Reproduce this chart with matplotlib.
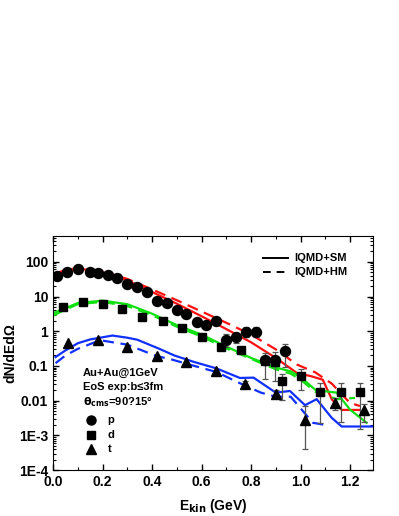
import numpy as np
import matplotlib
matplotlib.use("Agg")
import matplotlib.pyplot as plt
from matplotlib.ticker import MultipleLocator, LogLocator, FixedLocator, NullFormatter

plt.rcParams['font.family'] = ['Liberation Sans', 'DejaVu Sans']
plt.rcParams['font.weight'] = 'bold'

# experimental points
p_E = [0.017, 0.058, 0.10, 0.15, 0.18, 0.22, 0.257, 0.30, 0.34, 0.38, 0.42, 0.46, 0.50,
       0.537, 0.58, 0.617, 0.66, 0.70, 0.74, 0.78, 0.82, 0.857, 0.897, 0.937]
p_v = [39, 51, 62, 51, 48, 41, 34, 22.6, 19, 13.6, 7.5, 6.3, 4.2,
       3.1, 1.8, 1.5, 1.94, 0.55, 0.66, 0.95, 0.95, 0.145, 0.145, 0.27]
p_lo = [39, 51, 62, 51, 48, 41, 34, 22.6, 19, 13.6, 7.5, 6.3, 4.2,
        3.1, 1.45, 1.15, 1.5, 0.35, 0.45, 0.7, 0.7, 0.043, 0.038, 0.094]
p_hi = [39, 51, 62, 51, 48, 41, 34, 22.6, 19, 13.6, 7.5, 6.3, 4.2,
        3.1, 2.2, 1.9, 2.5, 0.85, 0.9, 1.3, 1.3, 0.23, 0.25, 0.44]

d_E = [0.042, 0.122, 0.20, 0.28, 0.36, 0.443, 0.52, 0.60, 0.68, 0.76, 0.857, 0.897,
       0.924, 1.0, 1.08, 1.163, 1.24]
d_v = [5.0, 7.0, 5.9, 4.5, 2.5, 1.94, 1.2, 0.66, 0.35, 0.28, 0.14, 0.13,
       0.036, 0.052, 0.018, 0.018, 0.018]
d_lo = [5.0, 7.0, 5.9, 4.5, 2.5, 1.94, 1.2, 0.66, 0.35, 0.28, 0.14, 0.13,
        0.0106, 0.02, 0.0023, 0.0025, 0.0015]
d_hi = [5.0, 7.0, 5.9, 4.5, 2.5, 1.94, 1.2, 0.66, 0.35, 0.28, 0.14, 0.13,
        0.06, 0.08, 0.032, 0.033, 0.033]

t_E = [0.062, 0.183, 0.30, 0.42, 0.537, 0.66, 0.777, 0.90, 1.018, 1.14, 1.257]
t_v = [0.46, 0.55, 0.35, 0.19, 0.13, 0.07, 0.031, 0.016, 0.0028, 0.0086, 0.0054]
t_lo = [0.46, 0.55, 0.35, 0.19, 0.13, 0.07, 0.026, 0.012, 0.0004, 0.0055, 0.0025]
t_hi = [0.46, 0.55, 0.35, 0.19, 0.13, 0.07, 0.036, 0.02, 0.007, 0.012, 0.008]

# IQMD curves
p_sm_E = [0.0, 0.05, 0.1, 0.15, 0.2, 0.3, 0.4, 0.5, 0.6, 0.7, 0.8, 0.9, 0.985, 1.045, 1.09, 1.126, 1.166, 1.24]
p_sm_v = [40, 55, 63, 58, 50, 29, 13.5, 6.2, 2.7, 1.15, 0.48, 0.17, 0.063, 0.05, 0.04, 0.011, 0.0054, 0.0054]
p_hm_E = [0.0, 0.05, 0.1, 0.15, 0.2, 0.3, 0.4, 0.5, 0.6, 0.7, 0.8, 0.9, 0.985, 1.06, 1.126, 1.16, 1.2, 1.24]
p_hm_v = [44, 58, 66, 60, 53, 32, 16, 7.8, 3.7, 1.75, 0.8, 0.3, 0.11, 0.065, 0.031, 0.017, 0.0086, 0.007]

d_sm_E = [0.0, 0.05, 0.1, 0.2, 0.3, 0.4, 0.5, 0.6, 0.7, 0.8, 0.9, 0.96, 1.0, 1.065, 1.09, 1.146, 1.2, 1.267]
d_sm_v = [3.3, 4.6, 6.5, 7.6, 6.0, 3.2, 1.5, 0.8, 0.36, 0.17, 0.09, 0.07, 0.048, 0.019, 0.019, 0.017, 0.0055, 0.0023]
d_hm_E = [0.0, 0.05, 0.1, 0.2, 0.3, 0.4, 0.5, 0.6, 0.7, 0.8, 0.9, 0.96, 1.0, 1.06, 1.1, 1.15, 1.22]
d_hm_v = [2.8, 4.2, 6.0, 7.0, 5.3, 2.9, 1.35, 0.7, 0.32, 0.16, 0.08, 0.06, 0.04, 0.018, 0.014, 0.011, 0.012]

t_sm_E = [0.01, 0.05, 0.1, 0.15, 0.24, 0.3, 0.34, 0.43, 0.49, 0.57, 0.66, 0.755, 0.81, 0.9, 0.957, 1.018, 1.065, 1.126, 1.166, 1.3]
t_sm_v = [0.18, 0.28, 0.45, 0.58, 0.75, 0.65, 0.57, 0.31, 0.2, 0.13, 0.085, 0.045, 0.046, 0.017, 0.019, 0.0074, 0.011, 0.0032, 0.0018, 0.0018]
t_hm_E = [0.01, 0.05, 0.1, 0.19, 0.3, 0.42, 0.47, 0.55, 0.66, 0.75, 0.84, 0.9, 0.96, 1.05, 1.1]
t_hm_v = [0.12, 0.2, 0.31, 0.55, 0.41, 0.19, 0.16, 0.11, 0.067, 0.033, 0.017, 0.013, 0.013, 0.0023, 0.002]

fig = plt.figure(figsize=(3.99, 5.16), dpi=100)
ax = fig.add_axes([0.133, 0.089, 0.802, 0.454])

red = '#ff1010'
green = '#10e010'
blue = '#1030ff'
ax.plot(p_sm_E, p_sm_v, '-', color=red, lw=1.6)
ax.plot(p_hm_E, p_hm_v, '--', color=red, lw=1.6, dashes=(5, 3))
ax.plot(d_sm_E, d_sm_v, '-', color=green, lw=1.6)
ax.plot(d_hm_E, d_hm_v, '--', color=green, lw=1.6, dashes=(5, 3))
ax.plot(t_sm_E, t_sm_v, '-', color=blue, lw=1.6)
ax.plot(t_hm_E, t_hm_v, '--', color=blue, lw=1.6, dashes=(5, 3))


def draw_points(E, v, lo, hi, marker, ms):
    E = np.array(E); v = np.array(v); lo = np.array(lo); hi = np.array(hi)
    m = (hi - lo) > 0
    ax.errorbar(E[m], v[m], yerr=[v[m] - lo[m], hi[m] - v[m]], fmt='none',
                ecolor='#555555', elinewidth=0.9, capsize=2, capthick=0.9, zorder=3)
    ax.plot(E, v, marker, color='black', ms=ms, ls='none', zorder=4)


draw_points(p_E, p_v, p_lo, p_hi, 'o', 7.2)
draw_points(d_E, d_v, d_lo, d_hi, 's', 6)
draw_points(t_E, t_v, t_lo, t_hi, '^', 7)

ax.set_yscale('log')
ax.set_xlim(0, 1.293)
ax.set_ylim(1e-4, 560)
ax.xaxis.set_major_locator(MultipleLocator(0.2))
ax.xaxis.set_minor_locator(MultipleLocator(0.1))
ax.yaxis.set_major_locator(FixedLocator([1e-4, 1e-3, 1e-2, 1e-1, 1, 10, 100]))
ax.yaxis.set_minor_locator(LogLocator(base=10, subs=np.arange(2, 10), numticks=20))
ax.yaxis.set_minor_formatter(NullFormatter())
ax.set_yticklabels(['1E-4', '1E-3', '0.01', '0.1', '1', '10', '100'])
ax.tick_params(which='both', direction='in', top=True, right=True, labelsize=10)
ax.tick_params(which='major', length=4, width=1)
ax.tick_params(which='minor', length=2, width=0.8)
for lab in ax.get_xticklabels() + ax.get_yticklabels():
    lab.set_fontweight('bold')

ax.set_xlabel(r'E$_{\mathbf{kin}}$ (GeV)', fontsize=10, fontweight='bold', labelpad=6)
ax.set_ylabel('dN/dEdΩ', fontsize=10, fontweight='bold', labelpad=1)

# model legend
ax.plot([0.85, 0.95], [130, 130], '-', color='black', lw=1.4)
ax.plot([0.85, 0.95], [52, 52], '--', color='black', lw=1.4, dashes=(4, 3))
ax.text(0.975, 130, 'IQMD+SM', fontsize=8, fontweight='bold', va='center')
ax.text(0.975, 52, 'IQMD+HM', fontsize=8, fontweight='bold', va='center')

# annotations
ax.text(0.12, 0.063, 'Au+Au@1GeV', fontsize=8, fontweight='bold', va='center')
ax.text(0.12, 0.024, 'EoS exp:b≤3fm', fontsize=8, fontweight='bold', va='center')
ax.text(0.12, 0.0089, r'$\mathbf{\theta_{cms}}$=90?15°', fontsize=8, fontweight='bold', va='center')
ax.plot([0.155], [0.0028], 'o', color='black', ms=6.5)
ax.plot([0.155], [0.00105], 's', color='black', ms=5.5)
ax.plot([0.155], [0.0004], '^', color='black', ms=6.5)
ax.text(0.22, 0.0028, 'p', fontsize=8, fontweight='bold', va='center')
ax.text(0.22, 0.00105, 'd', fontsize=8, fontweight='bold', va='center')
ax.text(0.22, 0.0004, 't', fontsize=8, fontweight='bold', va='center')

fig.savefig('out.png', dpi=100)
